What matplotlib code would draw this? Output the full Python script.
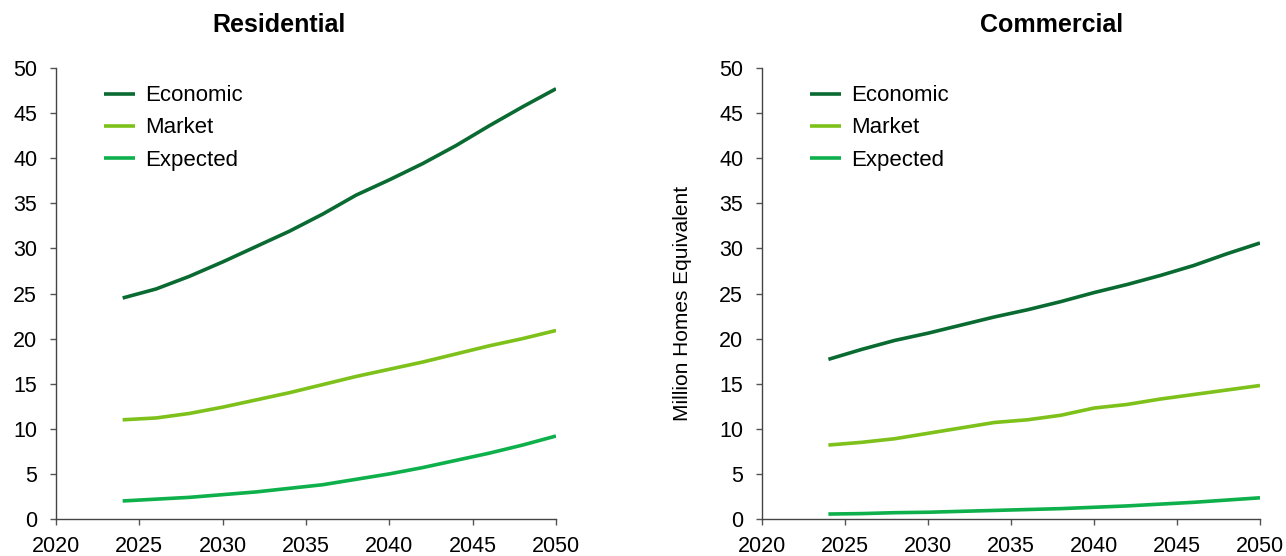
import matplotlib
matplotlib.use("Agg")
import matplotlib.pyplot as plt

plt.rcParams['font.family'] = ['Liberation Sans', 'DejaVu Sans']

years = [2024, 2026, 2028, 2030, 2032, 2034, 2036, 2038, 2040, 2042, 2044, 2046, 2048, 2050]

res_economic = [24.5, 25.5, 26.9, 28.5, 30.2, 31.9, 33.8, 35.9, 37.6, 39.4, 41.4, 43.6, 45.7, 47.7]
res_market = [11.0, 11.2, 11.7, 12.4, 13.2, 14.0, 14.9, 15.8, 16.6, 17.4, 18.3, 19.2, 20.0, 20.9]
res_expected = [2.0, 2.2, 2.4, 2.7, 3.0, 3.4, 3.8, 4.4, 5.0, 5.7, 6.5, 7.3, 8.2, 9.2]

com_economic = [17.7, 18.8, 19.8, 20.6, 21.5, 22.4, 23.2, 24.1, 25.1, 26.0, 27.0, 28.1, 29.4, 30.6]
com_market = [8.2, 8.5, 8.9, 9.5, 10.1, 10.7, 11.0, 11.5, 12.3, 12.7, 13.3, 13.8, 14.3, 14.8]
com_expected = [0.55, 0.6, 0.7, 0.75, 0.85, 0.95, 1.05, 1.15, 1.3, 1.45, 1.65, 1.85, 2.1, 2.35]

series_names = ["Economic", "Market", "Expected"]
colors = ["#0A6B32", "#7DC11A", "#0DB04B"]
titles = ["Residential", "Commercial"]
x_ticks = [2020, 2025, 2030, 2035, 2040, 2045, 2050]
y_ticks = [0, 5, 10, 15, 20, 25, 30, 35, 40, 45, 50]

fig = plt.figure(figsize=(12.86, 5.56), dpi=100)
ax1 = fig.add_axes([56/1286, 1-519/556, 500/1286, 451/556])
ax2 = fig.add_axes([762/1286, 1-519/556, 498/1286, 451/556])

data = [(res_economic, res_market, res_expected), (com_economic, com_market, com_expected)]
title_x = [0.446, 0.582]

for ax, title, ds, tx in zip([ax1, ax2], titles, data, title_x):
    for vals, name, c in zip(ds, series_names, colors):
        ax.plot(years, vals, color=c, lw=2.6, label=name, solid_capstyle='butt')
    ax.set_xlim(2020, 2050)
    ax.set_ylim(0, 50)
    ax.set_xticks(x_ticks)
    ax.set_yticks(y_ticks)
    ax.tick_params(axis='both', labelsize=15.5, direction='out', length=4.5, width=1,
                   color='#555555', labelcolor='black')
    ax.tick_params(axis='x', pad=8)
    ax.tick_params(axis='y', pad=9)
    for s in ['top', 'right']:
        ax.spines[s].set_visible(False)
    for s in ['left', 'bottom']:
        ax.spines[s].set_color('#444444')
        ax.spines[s].set_linewidth(1)
    ax.set_title(title, fontsize=18, fontweight='bold', x=tx, y=1.0, pad=26)
    ax.legend(loc='upper left', bbox_to_anchor=(0.056, 1.006), frameon=False,
              fontsize=16, handlelength=1.4, handletextpad=0.45, labelspacing=0.5)

ax2.set_ylabel("Million Homes Equivalent", fontsize=15)
ax2.yaxis.set_label_coords(-0.14, 0.479)

fig.savefig("out.png", dpi=100)
